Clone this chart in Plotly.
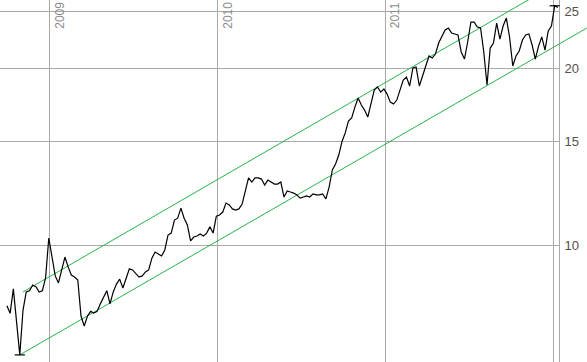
import plotly.graph_objects as go
import pandas as pd

# ---- data ----
start_date = "2008-10-01"
prices = [
    7.89, 7.66, 8.43, 7.35, 6.51, 7.76, 8.33, 8.37, 8.56, 8.50,
    8.33, 8.37, 8.80, 10.29, 9.60, 8.87, 8.63, 9.04, 9.55, 9.19,
    8.90, 8.83, 8.73, 7.58, 7.29, 7.58, 7.72, 7.67, 7.72, 7.95,
    8.17, 8.37, 7.95, 8.33, 8.59, 8.76, 8.46, 8.80, 9.12, 9.08,
    8.94, 8.83, 8.87, 9.01, 9.08, 9.51, 9.74, 9.67, 9.59, 9.82,
    10.41, 10.49, 11.04, 11.12, 11.57, 11.12, 10.83, 10.17, 10.33, 10.37,
    10.45, 10.37, 10.49, 10.75, 10.49, 11.21, 11.26, 11.39, 11.80, 11.71,
    11.53, 11.48, 11.53, 11.75, 12.37, 13.02, 12.81, 13.02, 13.02, 12.96,
    12.66, 12.91, 12.81, 12.71, 12.71, 12.81, 12.08, 12.37, 12.32, 12.27,
    12.18, 12.03, 12.08, 12.13, 12.08, 12.23, 12.18, 12.18, 12.23, 11.99,
    12.56, 13.43, 13.75, 14.24, 15.02, 15.53, 16.27, 16.46, 17.18, 17.80,
    17.32, 16.98, 16.52, 17.52, 18.37, 18.59, 18.22, 18.44, 18.08, 17.52,
    17.39, 17.66, 18.37, 19.10, 19.33, 18.66, 20.02, 20.10, 18.66, 19.40,
    20.26, 20.99, 20.82, 21.15, 22.08, 22.61, 23.24, 23.42, 22.97, 22.88,
    22.79, 21.32, 20.74, 22.17, 23.97, 23.97, 23.51, 23.42, 21.32, 18.73,
    21.65, 22.08, 23.88, 22.43, 23.60, 24.35, 22.61, 20.18, 20.99, 21.40,
    22.34, 22.79, 22.88, 21.91, 20.74, 21.82, 22.61, 21.48, 23.15, 23.60,
    25.55, 25.38,
]
dates = pd.date_range(start_date, periods=len(prices), freq="7D")

channel_lower_dates = ["2008-10-29", "2012-03-14"]
channel_lower_values = [6.51, 23.42]
channel_upper_dates = ["2008-11-05", "2012-03-14"]
channel_upper_values = [8.33, 29.85]

year_labels = ["2009", "2010", "2011"]
year_grid = ["2009-01-01", "2010-01-01", "2011-01-01", "2012-01-01"]
price_ticks = [10, 15, 20, 25]

# ---- layout constants ----
W, H = 587, 362
AXIS_PX = 559
x_start = pd.Timestamp("2008-09-16")
x_end_axis = pd.Timestamp("2012-01-13 10:00")
x_end_full = x_start + (x_end_axis - x_start) * (W / AXIS_PX)
y_range = [0.8015, 1.4172]

GRID = "#a9a9a9"
GREEN = "#27b34a"

fig = go.Figure()

# empty trace to keep the main subplot
fig.add_trace(go.Scatter(x=[], y=[], xaxis="x", yaxis="y", showlegend=False))

fig.add_trace(go.Scatter(x=channel_upper_dates, y=channel_upper_values, mode="lines",
                         line=dict(color=GREEN, width=1), xaxis="x2", yaxis="y2",
                         showlegend=False))
fig.add_trace(go.Scatter(x=channel_lower_dates, y=channel_lower_values, mode="lines",
                         line=dict(color=GREEN, width=1), xaxis="x2", yaxis="y2",
                         showlegend=False))
fig.add_trace(go.Scatter(x=dates, y=prices, mode="lines",
                         line=dict(color="black", width=1.2), xaxis="x2", yaxis="y2",
                         showlegend=False))

# min / max markers
i_min = min(range(len(prices)), key=lambda i: prices[i])
i_max = max(range(len(prices)), key=lambda i: prices[i])
half = pd.Timedelta(days=11)
for i in (i_min, i_max):
    fig.add_trace(go.Scatter(x=[dates[i] - half, dates[i] + half], y=[prices[i], prices[i]],
                             mode="lines", line=dict(color="black", width=1.2),
                             xaxis="x2", yaxis="y2", showlegend=False))

annotations = []
for lab in year_labels:
    annotations.append(dict(x=f"{lab}-01-01", xref="x", y=1, yref="paper",
                            text=lab, textangle=-90, showarrow=False,
                            xanchor="left", yanchor="top", xshift=1,
                            font=dict(size=12, color="#8c8c8c",
                                      family="Liberation Sans, Arial, sans-serif")))

fig.update_layout(
    width=W, height=H,
    margin=dict(l=0, r=0, t=0, b=0),
    paper_bgcolor="white", plot_bgcolor="rgba(0,0,0,0)",
    font=dict(family="Liberation Sans, Arial, sans-serif"),
    xaxis=dict(domain=[0, AXIS_PX / W], type="date", range=[x_start, x_end_axis],
               tickvals=year_grid, showticklabels=False, ticks="",
               showgrid=True, gridcolor=GRID, gridwidth=1, zeroline=False,
               showline=False, anchor="y"),
    yaxis=dict(domain=[0, 1], type="log", range=y_range, side="right",
               tickvals=price_ticks, ticktext=[str(v) for v in price_ticks],
               showgrid=True, gridcolor=GRID, gridwidth=1, zeroline=False,
               showline=True, linecolor=GRID, linewidth=1, ticks="",
               ticklabelstandoff=2,
               tickfont=dict(size=13, color="#505050"), anchor="x",
               automargin=False),
    xaxis2=dict(domain=[0, 1], type="date", range=[x_start, x_end_full],
                visible=False, anchor="y2"),
    yaxis2=dict(domain=[0, 1], type="log", range=y_range, visible=False, anchor="x2"),
    annotations=annotations,
    hovermode=False,
)

fig.write_html("out.html",
               config={"displayModeBar": False, "staticPlot": True},
               post_script="document.body.style.margin='0';document.body.style.overflow='hidden';")
